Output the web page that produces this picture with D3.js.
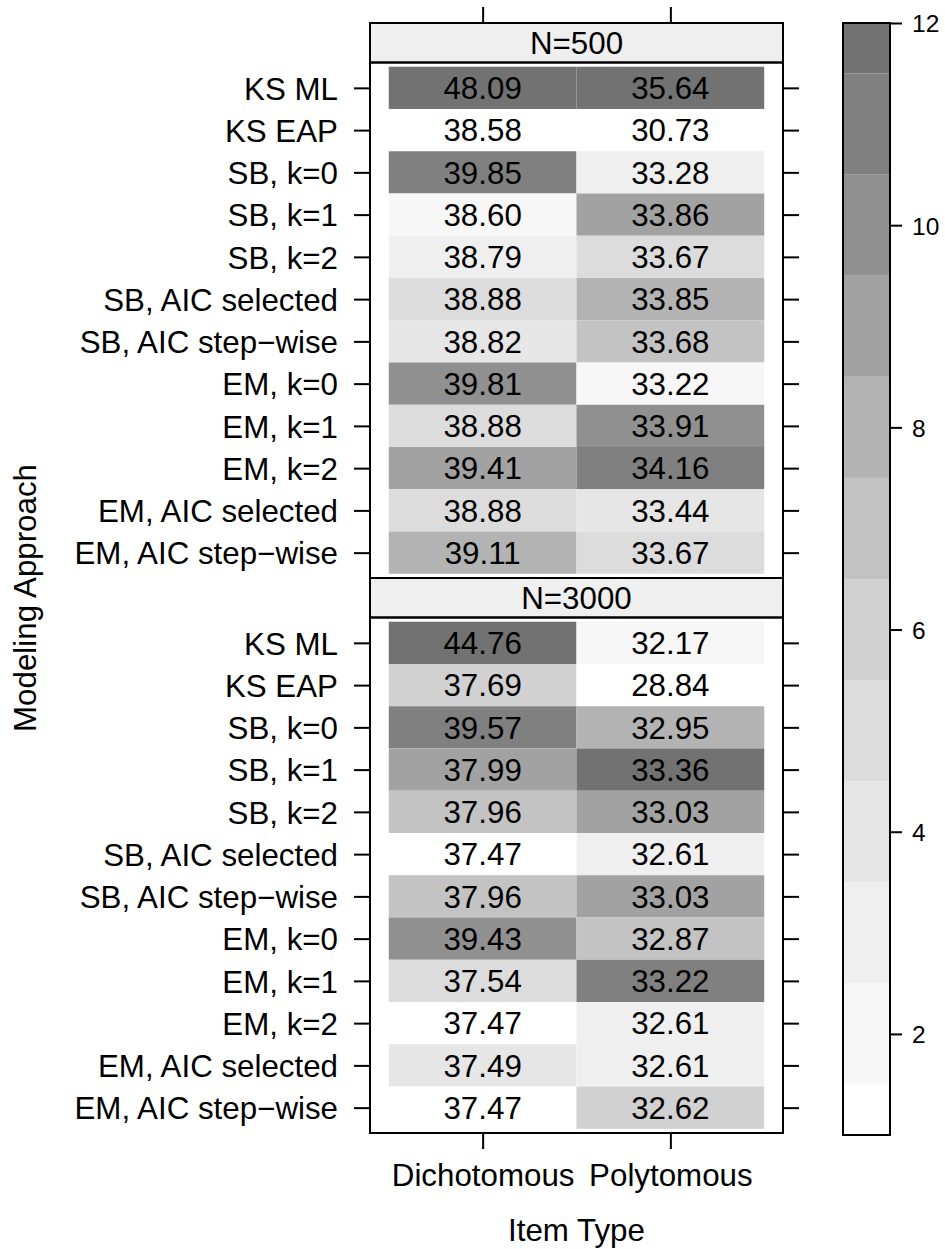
<!DOCTYPE html>
<html>
<head>
<meta charset="utf-8">
<script src="https://cdn.jsdelivr.net/npm/d3@7"></script>
<style>
  html, body { margin: 0; padding: 0; background: #fff; }
  svg { display: block; }
  text { font-family: "Liberation Sans", Arial, Helvetica, sans-serif; fill: #000; }
</style>
</head>
<body>
<svg id="chart" width="945" height="1249"></svg>
<script>
// ---------------- data ----------------
const methods = ["KS ML", "KS EAP", "SB, k=0", "SB, k=1", "SB, k=2", "SB, AIC selected",
  "SB, AIC step\u2212wise", "EM, k=0", "EM, k=1", "EM, k=2", "EM, AIC selected", "EM, AIC step\u2212wise"];
const itemTypes = ["Dichotomous", "Polytomous"];
const panelLabels = ["N=500", "N=3000"];

const n500Dich  = [48.09, 38.58, 39.85, 38.60, 38.79, 38.88, 38.82, 39.81, 38.88, 39.41, 38.88, 39.11];
const n500Poly  = [35.64, 30.73, 33.28, 33.86, 33.67, 33.85, 33.68, 33.22, 33.91, 34.16, 33.44, 33.67];
const n3000Dich = [44.76, 37.69, 39.57, 37.99, 37.96, 37.47, 37.96, 39.43, 37.54, 37.47, 37.49, 37.47];
const n3000Poly = [32.17, 28.84, 32.95, 33.36, 33.03, 32.61, 33.03, 32.87, 33.22, 32.61, 32.61, 32.62];

// shading level (rank within column) read from the cell greys
const n500DichRank  = [12, 1, 11, 2, 3, 5, 4, 10, 5, 9, 5, 8];
const n500PolyRank  = [12, 1, 3, 9, 5, 8, 7, 2, 10, 11, 4, 5];
const n3000DichRank = [12, 6, 11, 9, 7, 1, 7, 10, 5, 1, 4, 1];
const n3000PolyRank = [2, 1, 8, 12, 9, 3, 9, 7, 11, 3, 3, 6];

const colorBreaks = [1, 1.5, 2.5, 3.5, 4.5, 5.5, 6.5, 7.5, 8.5, 9.5, 10.5, 11.5, 12];
const greys = ["#ffffff", "#f7f7f7", "#efefef", "#e6e6e6", "#dcdcdc", "#d1d1d1",
  "#c3c3c3", "#b3b3b3", "#a2a2a2", "#909090", "#808080", "#727272"];
const colorTicks = [2, 4, 6, 8, 10, 12];

// ---------------- layout ----------------
const FONT = 31.3;
const svg = d3.select("#chart");
const px0 = 370, px1 = 783;
const stripH = 39.5;
const panels = [
  { label: panelLabels[0], top: 23, vals: [n500Dich, n500Poly], ranks: [n500DichRank, n500PolyRank] },
  { label: panelLabels[1], top: 578, vals: [n3000Dich, n3000Poly], ranks: [n3000DichRank, n3000PolyRank] }
];
const panelH = 515.5;

const x = d3.scaleLinear().domain([0.4, 2.6]).range([px0, px1]);
const color = d3.scaleThreshold().domain(colorBreaks.slice(1, -1)).range(greys);
const fmt = d3.format(".2f");

panels.forEach((p, pi) => {
  const y0 = p.top + stripH, y1 = y0 + panelH;
  const y = d3.scaleLinear().domain([0.4, 12.6]).range([y0, y1]);
  const g = svg.append("g");

  const cells = [];
  p.vals.forEach((col, ci) => col.forEach((v, ri) => cells.push({ c: ci + 1, r: ri + 1, v, rank: p.ranks[ci][ri] })));

  g.selectAll("rect.cell").data(cells).join("rect")
    .attr("x", d => x(d.c - 0.5)).attr("width", d => x(d.c + 0.5) - x(d.c - 0.5))
    .attr("y", d => y(d.r - 0.5)).attr("height", d => y(d.r + 0.5) - y(d.r - 0.5))
    .attr("fill", d => color(d.rank));

  g.selectAll("text.cell").data(cells).join("text")
    .attr("x", d => x(d.c)).attr("y", d => y(d.r)).attr("dy", "0.36em")
    .attr("text-anchor", "middle").style("font-size", FONT + "px")
    .text(d => fmt(d.v));

  // strip
  g.append("rect").attr("x", px0).attr("y", p.top).attr("width", px1 - px0).attr("height", stripH)
    .attr("fill", "#efefef").attr("stroke", "#000").attr("stroke-width", 2);
  g.append("text").attr("x", (px0 + px1) / 2).attr("y", p.top + stripH / 2).attr("dy", "0.36em")
    .attr("text-anchor", "middle").style("font-size", FONT + "px").text(p.label);

  // panel border
  g.append("rect").attr("x", px0).attr("y", y0).attr("width", px1 - px0).attr("height", panelH)
    .attr("fill", "none").attr("stroke", "#000").attr("stroke-width", 2);

  // left axis with labels
  const ax = d3.axisLeft(y).tickValues(d3.range(1, 13)).tickSize(16).tickPadding(16)
    .tickFormat(i => methods[i - 1]);
  const gl = g.append("g").attr("transform", `translate(${px0},0)`).call(ax);
  gl.select(".domain").remove();
  gl.selectAll("line").attr("stroke-width", 2);
  gl.selectAll("text").attr("font-family", null).attr("font-size", null).style("font-size", FONT + "px").attr("dy", "0.36em");

  // right ticks
  const ar = d3.axisRight(y).tickValues(d3.range(1, 13)).tickSize(16).tickFormat("");
  const gr = g.append("g").attr("transform", `translate(${px1},0)`).call(ar);
  gr.select(".domain").remove();
  gr.selectAll("line").attr("stroke-width", 2);
});

// top ticks
const at = d3.axisTop(x).tickValues([1, 2]).tickSize(16).tickFormat("");
const gt = svg.append("g").attr("transform", "translate(0,23)").call(at);
gt.select(".domain").remove();
gt.selectAll("line").attr("stroke-width", 2);

// bottom axis
const bottomY = 578 + stripH + panelH;
const ab = d3.axisBottom(x).tickValues([1, 2]).tickSize(16).tickPadding(15)
  .tickFormat(i => itemTypes[i - 1]);
const gb = svg.append("g").attr("transform", `translate(0,${bottomY})`).call(ab);
gb.select(".domain").remove();
gb.selectAll("line").attr("stroke-width", 2);
gb.selectAll("text").attr("font-family", null).attr("font-size", null).attr("dy", null)
  .attr("y", 53).style("font-size", FONT + "px");

// axis titles
svg.append("text").attr("x", (px0 + px1) / 2).attr("y", 1241).attr("text-anchor", "middle")
  .style("font-size", FONT + "px").text("Item Type");
svg.append("text").attr("transform", "translate(35.5,598) rotate(-90)").attr("text-anchor", "middle")
  .style("font-size", FONT + "px").text("Modeling Approach");

// colour key
const kx0 = 843, kx1 = 890;
const ky = d3.scaleLinear().domain([1, 12]).range([1135, 23]);
const bands = greys.map((c, i) => ({ lo: colorBreaks[i], hi: colorBreaks[i + 1], c }));
svg.append("g").selectAll("rect").data(bands).join("rect")
  .attr("x", kx0).attr("width", kx1 - kx0)
  .attr("y", d => ky(d.hi)).attr("height", d => ky(d.lo) - ky(d.hi))
  .attr("fill", d => d.c);
svg.append("rect").attr("x", kx0).attr("y", ky(12)).attr("width", kx1 - kx0).attr("height", ky(1) - ky(12))
  .attr("fill", "none").attr("stroke", "#000").attr("stroke-width", 2);
const ak = d3.axisRight(ky).tickValues(colorTicks).tickSize(12).tickPadding(10);
const gk = svg.append("g").attr("transform", `translate(${kx1},0)`).call(ak);
gk.select(".domain").remove();
gk.selectAll("line").attr("stroke-width", 2);
gk.selectAll("text").attr("font-family", null).attr("font-size", null).style("font-size", "24.5px").attr("dy", "0.36em");
</script>
</body>
</html>
